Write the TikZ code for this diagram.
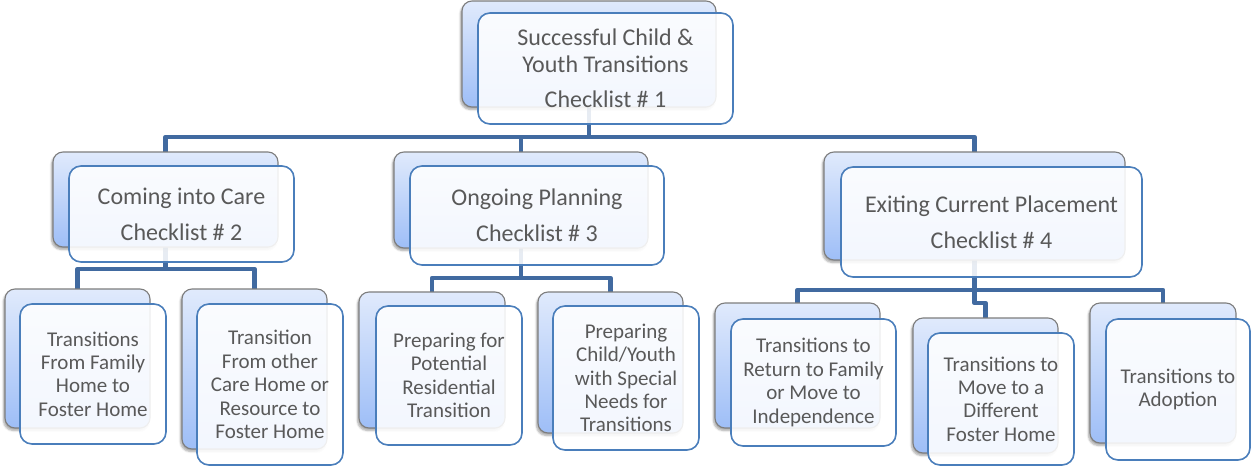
\documentclass[tikz,border=0pt]{standalone}
\usepackage{fontspec}
\setmainfont{Carlito}
\usetikzlibrary{shadows.blur,calc}
\pgfdeclarelayer{bg}
\pgfsetlayers{bg,main}
\definecolor{txt}{RGB}{89,89,89}
\definecolor{btop}{RGB}{224,234,252}
\definecolor{bbot}{RGB}{158,190,247}
\definecolor{bgray}{RGB}{125,125,125}
\definecolor{fborder}{RGB}{74,126,187}
\definecolor{cblue}{RGB}{65,106,160}
\begin{document}
\begin{tikzpicture}[x=1pt,y=-1pt,
  backbox/.style={draw=bgray, line width=1.1pt, rounded corners=10pt, top color=btop, bottom color=bbot,
    blur shadow={shadow xshift=-1.5pt, shadow yshift=-2.5pt, shadow opacity=35, shadow blur steps=6}, inner sep=0pt},
  frontbox/.style={draw=fborder, line width=1.6pt, rounded corners=12pt, fill=white, fill opacity=0.88,
    text opacity=1, draw opacity=1, text=txt, align=center, inner sep=0pt},
  big/.style={font=\fontsize{24}{26.5}\selectfont},
  small/.style={font=\fontsize{21}{23.4}\selectfont},
  conn/.style={draw=cblue, line width=4.5pt, line join=round}
]
\useasboundingbox (0,0) rectangle (1251,466);
\coordinate (y1) at (0,137);
\coordinate (y2) at (0,269);
\coordinate (y3) at (0,278);
\coordinate (y4) at (0,290);
\coordinate (y4b) at (0,303);

% top
\node[backbox, minimum width=254pt, minimum height=106pt] (t0) at (589,54) {};
\node[frontbox, big, minimum width=255pt, minimum height=111pt] (t1) at (605.5,68.5)
  {Successful Child \&\\Youth Transitions\\[8.5pt]Checklist \# 1};

% level 2
\node[backbox, minimum width=225pt, minimum height=95pt] (a0) at (165.5,199.5) {};
\node[frontbox, big, minimum width=225pt, minimum height=96pt] (a1) at (181.5,214)
  {Coming into Care\\[9.5pt]Checklist \# 2};
\node[backbox, minimum width=254pt, minimum height=96pt] (b0) at (521,200) {};
\node[frontbox, big, minimum width=254pt, minimum height=99pt] (b1) at (537,215.5)
  {Ongoing Planning\\[9.5pt]Checklist \# 3};
\node[backbox, minimum width=301pt, minimum height=108pt] (c0) at (974.5,206) {};
\node[frontbox, big, minimum width=301pt, minimum height=110pt] (c1) at (991.5,222)
  {Exiting Current Placement\\[9.5pt]Checklist \# 4};

% level 3
\node[backbox, minimum width=145pt, minimum height=139pt] (A0) at (77.5,358.5) {};
\node[frontbox, small, minimum width=146pt, minimum height=140pt] (A1) at (93,374)
  {Transitions\\From Family\\Home to\\Foster Home};
\node[backbox, minimum width=145pt, minimum height=160pt] (B0) at (254.5,369) {};
\node[frontbox, small, minimum width=146pt, minimum height=161pt] (B1) at (270,384.5)
  {Transition\\From other\\Care Home or\\Resource to\\Foster Home};
\node[backbox, minimum width=146pt, minimum height=136pt] (C0) at (432,360) {};
\node[frontbox, small, minimum width=146pt, minimum height=139pt] (C1) at (449,375.5)
  {Preparing for\\Potential\\Residential\\Transition};
\node[backbox, minimum width=145pt, minimum height=141pt] (D0) at (610.5,362.5) {};
\node[frontbox, small, minimum width=146pt, minimum height=144pt] (D1) at (626,378)
  {Preparing\\Child/Youth\\with Special\\Needs for\\Transitions};
\node[backbox, minimum width=165pt, minimum height=125pt] (E0) at (797.5,365.5) {};
\node[frontbox, small, minimum width=165pt, minimum height=127pt] (E1) at (813.5,382.5)
  {Transitions to\\Return to Family\\or Move to\\Independence};
\node[backbox, minimum width=145pt, minimum height=135pt] (F0) at (985.5,385.5) {};
\node[frontbox, small, minimum width=146pt, minimum height=132pt] (F1) at (1001,399)
  {Transitions to\\Move to a\\Different\\Foster Home};
\node[backbox, minimum width=146pt, minimum height=140pt] (G0) at (1163,373) {};
\node[frontbox, small, minimum width=144pt, minimum height=141pt] (G1) at (1178,389.5)
  {Transitions to\\Adoption};

\begin{pgfonlayer}{bg}
\draw[conn] (t0.center) |- (a0.center |- y1) -- (a0.center);
\draw[conn] (t0.center) |- (b0.center |- y1) -- (b0.center);
\draw[conn] (t0.center) |- (c0.center |- y1) -- (c0.center);
\draw[conn] (a0.center) |- (A0.center |- y2) -- (A0.center);
\draw[conn] (a0.center) |- (B0.center |- y2) -- (B0.center);
\draw[conn] (b0.center) |- (C0.center |- y3) -- (C0.center);
\draw[conn] (b0.center) |- (D0.center |- y3) -- (D0.center);
\draw[conn] (c0.center) |- (E0.center |- y4) -- (E0.center);
\draw[conn] (c0.center) |- (G0.center |- y4) -- (G0.center);
\draw[conn] (c0.center) |- (F0.center |- y4b) -- (F0.center);
\end{pgfonlayer}
\end{tikzpicture}
\end{document}
